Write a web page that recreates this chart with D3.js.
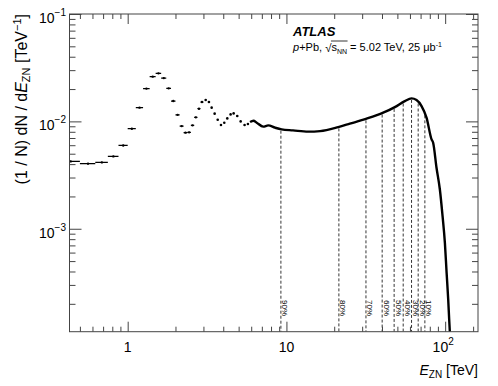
<!DOCTYPE html>
<html>
<head>
<meta charset="utf-8">
<script src="https://cdn.jsdelivr.net/npm/d3@7"></script>
<style>
  body { margin: 0; background: #fff; }
  text { font-family: "Liberation Sans", Arial, Helvetica, sans-serif; fill: #000; }
</style>
</head>
<body>
<svg id="chart" width="498" height="386"></svg>
<script>
// low energy part: 125 GeV wide bins, drawn with x error bars
let binCentres = [0.4375, 0.5625, 0.6875, 0.8125, 0.9375, 1.0625, 1.1875, 1.3125, 1.4375, 1.5625,
                  1.6875, 1.8125, 1.9375, 2.0625, 2.1875, 2.3125, 2.4375, 2.5625, 2.6875, 2.8125, 2.9375];
let binValues = [0.00424, 0.00404, 0.00415, 0.00472, 0.00597, 0.00855, 0.01342, 0.0202, 0.0261, 0.0280,
                 0.0253, 0.0203, 0.01546, 0.0115, 0.00904, 0.00785, 0.0079, 0.00918, 0.0109, 0.01313, 0.01513];
let binHalfWidth = 0.0625;

// oscillation region, single points
let dotEnergies = [3.10, 3.25, 3.38, 3.53, 3.69, 3.87, 4.06, 4.24, 4.45, 4.65, 4.90, 5.15, 5.45, 5.72];
let dotValues = [0.0158, 0.01513, 0.01342, 0.0118, 0.01037, 0.00924, 0.00972, 0.01066, 0.01162, 0.01187,
                 0.01121, 0.0100, 0.00924, 0.00944];

// high energy part, points so dense they form a line
let lineEnergies = [5.9, 6.2, 6.5, 7.14, 7.68, 8.47, 9.33, 11.0, 13.7, 16.3, 21.2, 25.1, 32.0, 40.7, 48.2,
                    55.7, 61.4, 66.0, 71.0, 76.3, 82.1, 84.0, 88.2, 92.6, 96.3, 99.6, 102.1, 104.5, 106.0, 107.0];
let lineValues = [0.00985, 0.01015, 0.00972, 0.00893, 0.00918, 0.00874, 0.00842, 0.00824, 0.00802, 0.00812,
                  0.00885, 0.00952, 0.0106, 0.01205, 0.01359, 0.01546, 0.01637, 0.0158, 0.01389, 0.01083,
                  0.00679, 0.00633, 0.0037, 0.00232, 0.00131, 0.00074, 0.00039, 0.00022, 0.000143, 0.00011];

// centrality boundaries
let pctLabels = ["90%", "80%", "70%", "60%", "50%", "40%", "30%", "20%", "10%"];
let pctEnergies = [9.23, 21.4, 31.7, 40.1, 47.7, 54.4, 61.4, 67.6, 74.5];

let xMajor = [1, 10, 100];
let xMajorLabels = [["1", ""], ["10", ""], ["10", "2"]];
let xMinor = [0.5, 0.6, 0.7, 0.8, 0.9, 2, 3, 4, 5, 6, 7, 8, 9, 20, 30, 40, 50, 60, 70, 80, 90, 150];
let yMajor = [1e-3, 1e-2, 1e-1];
let yMajorLabels = [["10", "\u22123"], ["10", "\u22122"], ["10", "\u22121"]];
let yMinor = [];
[1e-4, 1e-3, 1e-2].forEach(function (d) {
  for (let k = 2; k <= 9; k++) yMinor.push(d * k);
});

let frame = {left: 69.5, right: 478, top: 14, bottom: 331.7};

let x = d3.scaleLog().domain([0.43, 161]).range([frame.left, frame.right]);
let y = d3.scaleLog().domain([1.1e-4, 0.1]).range([frame.bottom, frame.top]);

let svg = d3.select("#chart");

svg.append("clipPath").attr("id", "plotclip")
  .append("rect")
  .attr("x", frame.left).attr("y", frame.top)
  .attr("width", frame.right - frame.left).attr("height", frame.bottom - frame.top);

let plot = svg.append("g").attr("clip-path", "url(#plotclip)");

// Dashed percentile lines, from the curve down to the axis
function curveAt(e) {
  for (let i = 1; i < lineEnergies.length; i++) {
    if (lineEnergies[i] >= e) {
      let a = Math.log(lineEnergies[i - 1]), b = Math.log(lineEnergies[i]);
      let f = (Math.log(e) - a) / (b - a);
      return Math.exp(Math.log(lineValues[i - 1]) * (1 - f) + Math.log(lineValues[i]) * f);
    }
  }
  return lineValues[lineValues.length - 1];
}

plot.selectAll(".pct")
  .data(pctEnergies)
  .enter().append("line")
  .attr("class", "pct")
  .attr("x1", d => x(d)).attr("x2", d => x(d))
  .attr("y1", d => y(curveAt(d)) + 1.5)
  .attr("y2", frame.bottom)
  .attr("stroke", "#000")
  .attr("stroke-width", 0.8)
  .attr("stroke-dasharray", "3,2");

svg.selectAll(".pctlabel")
  .data(pctEnergies)
  .enter().append("text")
  .attr("class", "pctlabel")
  .attr("transform", d => "translate(" + (x(d) + 1.5) + ",300) rotate(90)")
  .style("font-size", "8px")
  .text((d, i) => pctLabels[i]);

// Low energy bins
let bins = binCentres.map((e, i) => ({e: e, v: binValues[i]}));
plot.selectAll(".binbar")
  .data(bins)
  .enter().append("line")
  .attr("class", "binbar")
  .attr("x1", d => x(d.e - binHalfWidth))
  .attr("x2", d => x(d.e + binHalfWidth))
  .attr("y1", d => y(d.v)).attr("y2", d => y(d.v))
  .attr("stroke", "#000")
  .attr("stroke-width", 1.3);

plot.selectAll(".binmark")
  .data(bins)
  .enter().append("circle")
  .attr("class", "binmark")
  .attr("cx", d => x(d.e)).attr("cy", d => y(d.v))
  .attr("r", 1.2);

// Oscillation points
plot.selectAll(".dot")
  .data(dotEnergies)
  .enter().append("circle")
  .attr("class", "dot")
  .attr("cx", d => x(d))
  .attr("cy", (d, i) => y(dotValues[i]))
  .attr("r", 1.3);

// Dense part as a thick line
let lineData = lineEnergies.map((e, i) => [e, lineValues[i]]);
plot.append("path")
  .datum(lineData)
  .attr("fill", "none")
  .attr("stroke", "#000")
  .attr("stroke-width", 2.4)
  .attr("d", d3.line().x(d => x(d[0])).y(d => y(d[1])).curve(d3.curveMonotoneX));

// Frame and ticks (ROOT style, inside the frame, on all four sides)
let axisColour = "#444";

function tickAxis(axis, transform) {
  let g = svg.append("g").attr("transform", transform).call(axis);
  g.select(".domain").remove();
  g.selectAll(".tick line").attr("stroke", axisColour);
  g.selectAll(".tick text").remove();
  return g;
}

tickAxis(d3.axisBottom(x).tickValues(xMajor).tickSize(-10), "translate(0," + frame.bottom + ")");
tickAxis(d3.axisBottom(x).tickValues(xMinor).tickSize(-5), "translate(0," + frame.bottom + ")");
tickAxis(d3.axisTop(x).tickValues(xMajor).tickSize(-10), "translate(0," + frame.top + ")");
tickAxis(d3.axisTop(x).tickValues(xMinor).tickSize(-5), "translate(0," + frame.top + ")");
tickAxis(d3.axisLeft(y).tickValues(yMajor).tickSize(-12), "translate(" + frame.left + ",0)");
tickAxis(d3.axisLeft(y).tickValues(yMinor).tickSize(-6), "translate(" + frame.left + ",0)");
tickAxis(d3.axisRight(y).tickValues(yMajor).tickSize(-12), "translate(" + frame.right + ",0)");
tickAxis(d3.axisRight(y).tickValues(yMinor).tickSize(-6), "translate(" + frame.right + ",0)");

svg.append("rect")
  .attr("x", frame.left).attr("y", frame.top)
  .attr("width", frame.right - frame.left).attr("height", frame.bottom - frame.top)
  .attr("fill", "none")
  .attr("stroke", axisColour)
  .attr("stroke-width", 1);

// Tick labels
xMajor.forEach(function (v, i) {
  let t = svg.append("text")
    .attr("x", x(v) - (xMajorLabels[i][1] ? 2 : 0))
    .attr("y", 352)
    .attr("text-anchor", "middle")
    .style("font-size", "14px")
    .text(xMajorLabels[i][0]);
  if (xMajorLabels[i][1]) {
    t.append("tspan").attr("dy", -7).style("font-size", "10px").text(xMajorLabels[i][1]);
  }
});

yMajor.forEach(function (v, i) {
  let t = svg.append("text")
    .attr("x", 66)
    .attr("y", y(v) + 9)
    .attr("text-anchor", "end")
    .style("font-size", "14px")
    .text(yMajorLabels[i][0]);
  t.append("tspan").attr("dy", -7).style("font-size", "10px").text(yMajorLabels[i][1]);
});

// Axis titles
let xt = svg.append("text")
  .attr("x", frame.right).attr("y", 375)
  .attr("text-anchor", "end")
  .style("font-size", "14px");
xt.append("tspan").style("font-style", "italic").text("E");
xt.append("tspan").attr("dy", 3).style("font-size", "10px").text("ZN");
xt.append("tspan").attr("dy", -3).text(" [TeV]");

let yt = svg.append("text")
  .attr("transform", "translate(27," + frame.top + ") rotate(-90)")
  .attr("text-anchor", "end")
  .style("font-size", "16px");
yt.append("tspan").text("(1 / N) dN / d");
yt.append("tspan").style("font-style", "italic").text("E");
yt.append("tspan").attr("dy", 3).style("font-size", "11px").text("ZN");
yt.append("tspan").attr("dy", -3).text(" [TeV");
yt.append("tspan").attr("dy", -6).style("font-size", "11px").text("\u22121");
yt.append("tspan").attr("dy", 6).text("]");

// ATLAS label
svg.append("text")
  .attr("x", 293).attr("y", 36)
  .style("font-size", "13px")
  .style("font-weight", "bold")
  .style("font-style", "italic")
  .text("ATLAS");

// Second line built piece by piece so the root sign can get its bar
function piece(px, py, str, size, extra) {
  let t = svg.append("text").attr("x", px).attr("y", py)
    .style("font-size", size + "px").text(str);
  if (extra) extra(t);
  return px + t.node().getComputedTextLength();
}
let ly = 51;
let cx = 293;
cx = piece(cx, ly, "p", 11, t => t.style("font-style", "italic"));
cx = piece(cx, ly, "+Pb,\u00A0", 11);
cx = piece(cx, ly + 1, "\u221A", 11.5);
let barStart = cx;
cx = piece(cx, ly, "s", 11);
cx = piece(cx, ly + 2.5, "NN", 7);
svg.append("line")
  .attr("x1", barStart - 0.5).attr("x2", cx + 0.5)
  .attr("y1", ly - 10).attr("y2", ly - 10)
  .attr("stroke", "#000").attr("stroke-width", 0.8);
cx = piece(cx, ly, "\u00A0= 5.02 TeV, 25 \u03BCb", 11);
cx = piece(cx, ly - 4.5, "-1", 7);
</script>
</body>
</html>
